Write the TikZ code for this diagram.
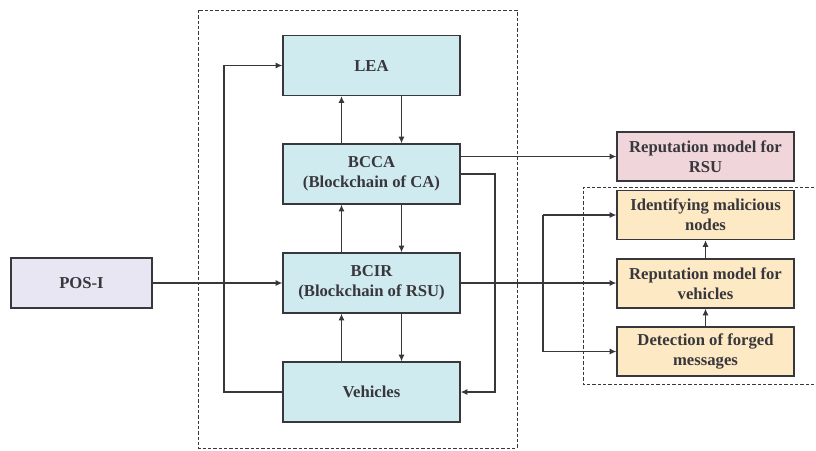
\documentclass[tikz,border=0pt]{standalone}
\usepackage{fontspec}
\setmainfont{Liberation Serif}
\usetikzlibrary{arrows.meta}
\definecolor{cyanfill}{RGB}{208,235,240}
\definecolor{lavfill}{RGB}{232,230,242}
\definecolor{pinkfill}{RGB}{240,214,218}
\definecolor{orangefill}{RGB}{254,233,197}
\definecolor{edge}{RGB}{55,55,60}
\begin{document}
\begin{tikzpicture}[x=0.75pt,y=-0.75pt,
  blk/.style={draw=edge, line width=0.9pt, align=center, inner sep=0pt,
    font=\fontsize{12.5}{15}\selectfont\bfseries, text=edge},
  cbox/.style={blk, fill=cyanfill, minimum width=132.75pt, minimum height=45pt},
  rbox/.style={blk, minimum width=132.75pt, minimum height=36.75pt},
  link/.style={draw=edge, line width=1pt},
  arr/.style={link, -{Latex[length=5pt,width=4.5pt]}},
  frame/.style={draw=edge, line width=0.6pt, dash pattern=on 2.5pt off 1.5pt}]
\useasboundingbox (0,0) rectangle (816,450);
\begin{scope}
\clip (0,0) rectangle (816,450);
% dashed groups
\draw[frame] (198,10) rectangle (517,448);
\draw[frame] (830,187) -- (583,187) -- (583,384) -- (830,384);
\end{scope}

% central stack
\node[cbox] (lea)  at (371.5,65.5) {LEA};
\node[cbox] (bcca) at (371.5,174)  {BCCA\\(Blockchain of CA)};
\node[cbox] (bcir) at (371.5,283)  {BCIR\\(Blockchain of RSU)};
\node[cbox] (veh)  at (371.5,392)  {Vehicles};

% input
\node[blk, fill=lavfill, minimum width=105.75pt, minimum height=37.5pt] (pos) at (81.5,283) {POS-I};

% reputation and detection modules
\node[rbox, fill=pinkfill]   (rsu)   at (705.5,156.5) {Reputation model for\\RSU};
\node[rbox, fill=orangefill] (ident) at (705.5,215)   {Identifying malicious\\nodes};
\node[rbox, fill=orangefill] (repv)  at (705.5,283.5) {Reputation model for\\vehicles};
\node[rbox, fill=orangefill] (det)   at (705.5,351.5) {Detection of forged\\messages};

% vertical links between stacked layers
\foreach \a/\b in {lea/bcca, bcca/bcir, bcir/veh}{
  \draw[arr] ([xshift=-22.5pt]\b.north) -- ([xshift=-22.5pt]\a.south);
  \draw[arr] ([xshift=22.5pt]\a.south) -- ([xshift=22.5pt]\b.north);
}

% feedback loops
\coordinate (lx) at (224,0);
\coordinate (rx) at (495,0);
\draw[arr] (veh.west) -- (veh.west -| lx) -- (lea.west -| lx) -- (lea.west);
\draw[arr] (bcca.east) -- (bcca.east -| rx) -- (veh.east -| rx) -- (veh.east);

% outputs
\draw[arr] (bcca.east |- rsu.west) -- (rsu.west);
\draw[arr] (pos.east) -- (bcir.west);
\draw[arr] (bcir.east) -- (repv.west |- bcir.east);
\coordinate (bx) at (543,0);
\draw[link] (ident.west -| bx) -- (det.west -| bx);
\draw[arr] (ident.west -| bx) -- (ident.west);
\draw[arr] (det.west -| bx) -- (det.west);
\draw[arr] (det.north) -- (repv.south);
\draw[arr] (repv.north) -- (ident.south);
\end{tikzpicture}
\end{document}
